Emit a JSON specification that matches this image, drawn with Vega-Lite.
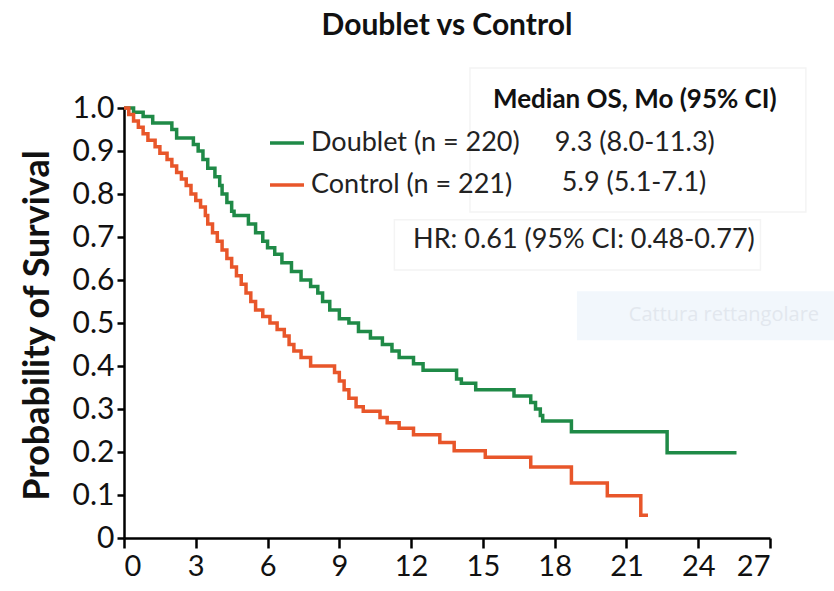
{
  "$schema": "https://vega.github.io/schema/vega-lite/v6.json",
  "width": 646,
  "height": 430,
  "autosize": {"type": "none"},
  "padding": {"left": 124, "top": 108, "right": 64, "bottom": 53},
  "background": "white",
  "title": {"text": "Doublet vs Control", "fontSize": 30, "fontWeight": "bold", "font": "Lato", "color": "#111111", "anchor": "middle", "offset": 26},
  "datasets": {
    "km": [
      {"arm": "Doublet", "t": 0, "s": 1.0},
      {"arm": "Doublet", "t": 0.4, "s": 0.99},
      {"arm": "Doublet", "t": 0.8, "s": 0.98},
      {"arm": "Doublet", "t": 1.2, "s": 0.965},
      {"arm": "Doublet", "t": 2.0, "s": 0.95},
      {"arm": "Doublet", "t": 2.2, "s": 0.93},
      {"arm": "Doublet", "t": 2.9, "s": 0.915},
      {"arm": "Doublet", "t": 3.1, "s": 0.9},
      {"arm": "Doublet", "t": 3.3, "s": 0.88},
      {"arm": "Doublet", "t": 3.5, "s": 0.86},
      {"arm": "Doublet", "t": 3.8, "s": 0.84},
      {"arm": "Doublet", "t": 4.0, "s": 0.82},
      {"arm": "Doublet", "t": 4.1, "s": 0.8},
      {"arm": "Doublet", "t": 4.3, "s": 0.78},
      {"arm": "Doublet", "t": 4.5, "s": 0.76},
      {"arm": "Doublet", "t": 4.6, "s": 0.75},
      {"arm": "Doublet", "t": 5.2, "s": 0.73},
      {"arm": "Doublet", "t": 5.5, "s": 0.71},
      {"arm": "Doublet", "t": 5.8, "s": 0.69},
      {"arm": "Doublet", "t": 6.0, "s": 0.675},
      {"arm": "Doublet", "t": 6.3, "s": 0.66},
      {"arm": "Doublet", "t": 6.6, "s": 0.64},
      {"arm": "Doublet", "t": 7.0, "s": 0.62},
      {"arm": "Doublet", "t": 7.4, "s": 0.6},
      {"arm": "Doublet", "t": 7.8, "s": 0.585},
      {"arm": "Doublet", "t": 8.1, "s": 0.57},
      {"arm": "Doublet", "t": 8.3, "s": 0.55},
      {"arm": "Doublet", "t": 8.6, "s": 0.53},
      {"arm": "Doublet", "t": 9.0, "s": 0.51},
      {"arm": "Doublet", "t": 9.4, "s": 0.5},
      {"arm": "Doublet", "t": 9.8, "s": 0.48},
      {"arm": "Doublet", "t": 10.3, "s": 0.465},
      {"arm": "Doublet", "t": 10.8, "s": 0.45},
      {"arm": "Doublet", "t": 11.2, "s": 0.435},
      {"arm": "Doublet", "t": 11.5, "s": 0.42},
      {"arm": "Doublet", "t": 12.1, "s": 0.405},
      {"arm": "Doublet", "t": 12.5, "s": 0.39},
      {"arm": "Doublet", "t": 13.9, "s": 0.37},
      {"arm": "Doublet", "t": 14.1, "s": 0.36},
      {"arm": "Doublet", "t": 14.7, "s": 0.345},
      {"arm": "Doublet", "t": 16.3, "s": 0.33},
      {"arm": "Doublet", "t": 17.0, "s": 0.315},
      {"arm": "Doublet", "t": 17.2, "s": 0.3},
      {"arm": "Doublet", "t": 17.4, "s": 0.285},
      {"arm": "Doublet", "t": 17.5, "s": 0.272},
      {"arm": "Doublet", "t": 18.7, "s": 0.247},
      {"arm": "Doublet", "t": 22.7, "s": 0.198},
      {"arm": "Doublet", "t": 25.6, "s": 0.198},
      {"arm": "Control", "t": 0, "s": 1.0},
      {"arm": "Control", "t": 0.2, "s": 0.985},
      {"arm": "Control", "t": 0.4, "s": 0.97},
      {"arm": "Control", "t": 0.6, "s": 0.955},
      {"arm": "Control", "t": 0.8, "s": 0.94},
      {"arm": "Control", "t": 1.0, "s": 0.925},
      {"arm": "Control", "t": 1.3, "s": 0.91},
      {"arm": "Control", "t": 1.5, "s": 0.895},
      {"arm": "Control", "t": 1.8, "s": 0.88},
      {"arm": "Control", "t": 2.0, "s": 0.865},
      {"arm": "Control", "t": 2.2, "s": 0.85},
      {"arm": "Control", "t": 2.4, "s": 0.835},
      {"arm": "Control", "t": 2.6, "s": 0.82},
      {"arm": "Control", "t": 2.8, "s": 0.8},
      {"arm": "Control", "t": 3.0, "s": 0.785},
      {"arm": "Control", "t": 3.2, "s": 0.77},
      {"arm": "Control", "t": 3.4, "s": 0.75},
      {"arm": "Control", "t": 3.5, "s": 0.73},
      {"arm": "Control", "t": 3.7, "s": 0.71},
      {"arm": "Control", "t": 3.9, "s": 0.69},
      {"arm": "Control", "t": 4.1, "s": 0.67},
      {"arm": "Control", "t": 4.3, "s": 0.65},
      {"arm": "Control", "t": 4.5, "s": 0.63},
      {"arm": "Control", "t": 4.7, "s": 0.61},
      {"arm": "Control", "t": 4.9, "s": 0.59},
      {"arm": "Control", "t": 5.1, "s": 0.57},
      {"arm": "Control", "t": 5.3, "s": 0.55},
      {"arm": "Control", "t": 5.5, "s": 0.53},
      {"arm": "Control", "t": 5.8, "s": 0.515},
      {"arm": "Control", "t": 6.1, "s": 0.5},
      {"arm": "Control", "t": 6.4, "s": 0.485},
      {"arm": "Control", "t": 6.7, "s": 0.47},
      {"arm": "Control", "t": 6.9, "s": 0.45},
      {"arm": "Control", "t": 7.1, "s": 0.435},
      {"arm": "Control", "t": 7.4, "s": 0.42},
      {"arm": "Control", "t": 7.8, "s": 0.4},
      {"arm": "Control", "t": 8.8, "s": 0.385},
      {"arm": "Control", "t": 9.0, "s": 0.365},
      {"arm": "Control", "t": 9.2, "s": 0.345},
      {"arm": "Control", "t": 9.4, "s": 0.325},
      {"arm": "Control", "t": 9.7, "s": 0.305},
      {"arm": "Control", "t": 10.0, "s": 0.295},
      {"arm": "Control", "t": 10.7, "s": 0.28},
      {"arm": "Control", "t": 11.0, "s": 0.268},
      {"arm": "Control", "t": 11.5, "s": 0.255},
      {"arm": "Control", "t": 12.1, "s": 0.24},
      {"arm": "Control", "t": 13.2, "s": 0.222},
      {"arm": "Control", "t": 13.8, "s": 0.203},
      {"arm": "Control", "t": 15.1, "s": 0.188},
      {"arm": "Control", "t": 17.0, "s": 0.165},
      {"arm": "Control", "t": 18.7, "s": 0.128},
      {"arm": "Control", "t": 20.2, "s": 0.098},
      {"arm": "Control", "t": 21.6, "s": 0.053},
      {"arm": "Control", "t": 21.9, "s": 0.053}
    ],
    "one": [{"k": 1}]
  },
  "layer": [
    {
      "data": {"name": "one"},
      "mark": {"type": "rect", "fill": "#f2f7fc", "stroke": null, "clip": false},
      "encoding": {
        "x": {"datum": 18.93, "type": "quantitative"},
        "x2": {"datum": 29.67},
        "y": {"datum": 0.574, "type": "quantitative"},
        "y2": {"datum": 0.46}
      }
    },
    {
      "data": {"name": "one"},
      "mark": {"type": "text", "text": "Cattura rettangolare", "align": "left", "baseline": "middle", "fontSize": 20, "font": "Open Sans", "color": "#e2e7ee"},
      "encoding": {"x": {"datum": 21.1, "type": "quantitative"}, "y": {"datum": 0.518, "type": "quantitative"}}
    },
    {
      "data": {"name": "one"},
      "mark": {"type": "rect", "fill": null, "stroke": "#f4f4f4", "strokeWidth": 1.5, "clip": false},
      "encoding": {
        "x": {"datum": 14.46, "type": "quantitative"},
        "x2": {"datum": 28.5},
        "y": {"datum": 1.093, "type": "quantitative"},
        "y2": {"datum": 0.758}
      }
    },
    {
      "data": {"name": "one"},
      "mark": {"type": "rect", "fill": null, "stroke": "#f4f4f4", "strokeWidth": 1.5, "clip": false},
      "encoding": {
        "x": {"datum": 11.3, "type": "quantitative"},
        "x2": {"datum": 26.6},
        "y": {"datum": 0.74, "type": "quantitative"},
        "y2": {"datum": 0.623}
      }
    },
    {
      "data": {"name": "km"},
      "mark": {"type": "line", "interpolate": "step-after", "strokeWidth": 3.5, "clip": false},
      "encoding": {
        "x": {"field": "t", "type": "quantitative", "scale": {"domain": [0, 27], "nice": false, "zero": false},
          "axis": {"values": [0, 3, 6, 9, 12, 15, 18, 21, 24, 27], "title": null, "grid": false, "domainColor": "#000000", "domainWidth": 2.5, "tickColor": "#000000", "tickWidth": 2.5, "tickSize": 10, "labelFontSize": 29, "labelColor": "#111111", "labelPadding": 4, "labelFont": "Lato"}},
        "y": {"field": "s", "type": "quantitative", "scale": {"domain": [0, 1], "nice": false},
          "axis": {"values": [0, 0.1, 0.2, 0.3, 0.4, 0.5, 0.6, 0.7, 0.8, 0.9, 1.0], "labelExpr": "datum.value == 0 ? '0' : format(datum.value, '.1f')", "title": "Probability of Survival", "titleFontSize": 36, "titleFontWeight": "bold", "titleFont": "Lato", "titleColor": "#111111", "titleX": -87, "titleY": 217, "titleAngle": -90, "titleAlign": "center", "titleBaseline": "middle", "grid": false, "domainColor": "#000000", "domainWidth": 2.5, "tickColor": "#000000", "tickWidth": 2.5, "tickSize": 7, "labelFontSize": 30, "labelColor": "#111111", "labelPadding": 3, "labelFont": "Lato"}},
        "color": {"field": "arm", "type": "nominal", "scale": {"domain": ["Doublet", "Control"], "range": ["#1f8a47", "#e8562a"]},
          "legend": {"orient": "none", "legendX": 144, "legendY": 16, "title": null, "padding": 0, "symbolType": "stroke", "symbolSize": 1156, "symbolStrokeWidth": 3.5, "labelFontSize": 27, "labelFont": "Lato", "labelColor": "#222222", "labelOffset": 5, "labelLimit": 0, "rowPadding": 10, "labelExpr": "datum.label == 'Doublet' ? 'Doublet (n = 220)' : 'Control (n = 221)'"}}
      }
    },
    {
      "data": {"name": "one"},
      "mark": {"type": "text", "text": "Median OS, Mo (95% CI)", "align": "center", "baseline": "middle", "fontSize": 26, "fontWeight": "bold", "font": "Lato", "color": "#111111"},
      "encoding": {"x": {"datum": 21.35, "type": "quantitative"}, "y": {"datum": 1.019, "type": "quantitative"}}
    },
    {
      "data": {"name": "one"},
      "mark": {"type": "text", "text": "9.3 (8.0-11.3)", "align": "left", "baseline": "middle", "fontSize": 27, "font": "Lato", "color": "#222222"},
      "encoding": {"x": {"datum": 18.0, "type": "quantitative"}, "y": {"datum": 0.919, "type": "quantitative"}}
    },
    {
      "data": {"name": "one"},
      "mark": {"type": "text", "text": "5.9 (5.1-7.1)", "align": "left", "baseline": "middle", "fontSize": 27, "font": "Lato", "color": "#222222"},
      "encoding": {"x": {"datum": 18.3, "type": "quantitative"}, "y": {"datum": 0.826, "type": "quantitative"}}
    },
    {
      "data": {"name": "one"},
      "mark": {"type": "text", "text": "HR: 0.61 (95% CI: 0.48-0.77)", "align": "left", "baseline": "middle", "fontSize": 27, "font": "Lato", "color": "#222222"},
      "encoding": {"x": {"datum": 12.08, "type": "quantitative"}, "y": {"datum": 0.693, "type": "quantitative"}}
    }
  ],
  "config": {"view": {"stroke": null}, "font": "Lato"}
}
